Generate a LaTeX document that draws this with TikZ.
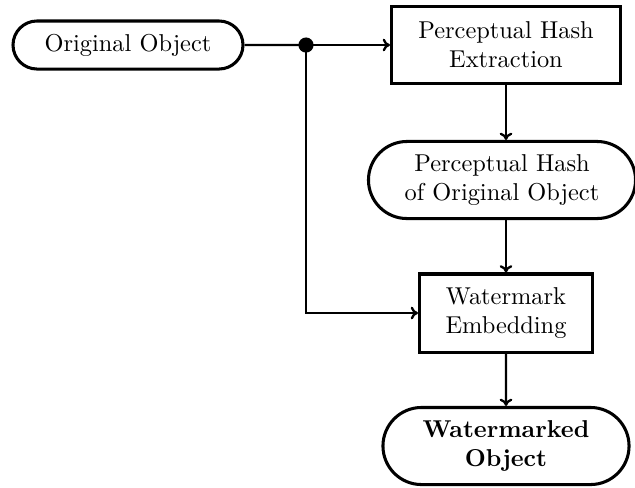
\documentclass[tikz,border=0pt]{standalone}
\usetikzlibrary{shapes.misc,arrows.meta}
\begin{document}
\begin{tikzpicture}[x=0.41pt,y=-0.41pt,
  box/.style={draw,line width=1.25pt,rectangle,align=center,inner sep=0pt,fill=white},
  pill/.style={draw,line width=1.25pt,rounded rectangle,align=center,inner sep=0pt,fill=white},
  link/.style={line width=0.95pt},
  flow/.style={link,-{Computer Modern Rightarrow[length=3pt,width=5.2pt]}}]
  \useasboundingbox (0,0) rectangle (635,487);

  \node[pill,minimum width=94.3pt,minimum height=19.7pt] (orig) at (128,45) {Original Object};
  \node[box,minimum width=93.9pt,minimum height=31.6pt] (extract) at (506,45) {Perceptual Hash\\Extraction};
  \node[pill,minimum width=109.5pt,minimum height=31.6pt] (hash) at (502,180) {Perceptual Hash\\of Original Object};
  \node[box,minimum width=70.9pt,minimum height=32pt] (embed) at (506,313) {Watermark\\Embedding};
  \node[pill,minimum width=100.9pt,minimum height=31.6pt] (marked) at (506,446) {\textbf{Watermarked}\\\textbf{Object}};

  \coordinate (split) at (306,45);
  \draw[link] (orig) -- (split);
  \draw[flow] (split) -- (extract);
  \draw[flow] (split) |- (embed);
  \draw[flow] (extract.south) -- (extract.south |- hash.north);
  \draw[flow] (extract.south |- hash.south) -- (embed);
  \draw[flow] (embed) -- (marked);
  \fill (split) circle (3.1pt);
\end{tikzpicture}
\end{document}
